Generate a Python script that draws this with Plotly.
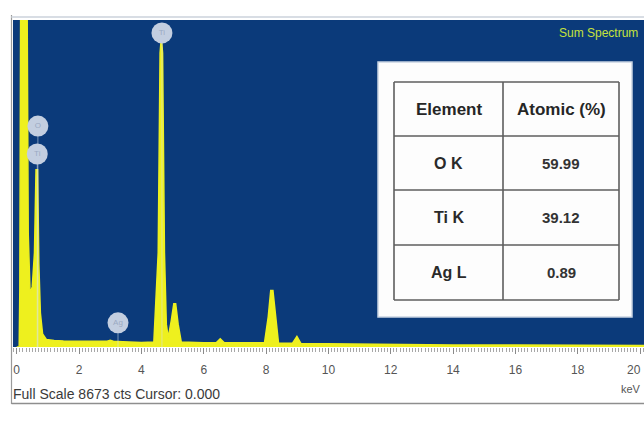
import plotly.graph_objects as go

# ---- spectrum (energy in keV, counts) ----
energy_kev = [0.00, 0.08, 0.10, 0.13, 0.33, 0.37, 0.43, 0.50, 0.57, 0.62, 0.67, 0.71,
              0.76, 0.83, 0.95, 1.20, 1.50, 2.00, 2.50, 2.90, 3.00, 3.10, 3.40, 4.00,
              4.40, 4.54, 4.60, 4.64, 4.68, 4.74, 4.80, 4.86, 4.96, 5.04, 5.10, 5.18,
              5.28, 5.60, 6.00, 6.40, 6.53, 6.66, 7.20, 7.95, 8.07, 8.15, 8.22, 8.30,
              8.40, 8.85, 8.99, 9.12, 10.0, 12.0, 14.0, 16.0, 18.0, 20.2]
counts = [0, 0, 1500, 9800, 9800, 3000, 1400, 1600, 2500, 4700, 4700, 2200,
          900, 350, 200, 170, 160, 150, 140, 150, 175, 150, 140, 120,
          130, 2500, 7800, 8200, 7800, 2500, 600, 250, 700, 1150, 1150, 600,
          130, 115, 110, 110, 220, 110, 105, 110, 800, 1500, 1500, 800,
          100, 100, 280, 90, 80, 65, 55, 50, 45, 40]

full_scale = 8673

# ---- peak identification markers ----
marker_symbols = ["Ti", "O", "Ti", "Ag"]
marker_energy = [4.66, 0.68, 0.66, 3.25]
marker_counts = [8330, 5860, 5120, 640]

# ---- quantification table ----
table_header = ["Element", "Atomic (%)"]
table_elements = ["O K", "Ti K", "Ag L"]
table_atomic = [59.99, 39.12, 0.89]

x_ticks = list(range(0, 21, 2))
# the last label sits at the right edge, so it is drawn right-aligned separately
x_tick_text = [str(t) for t in x_ticks[:-1]] + [""]

# plot-area geometry in pixels
W, H = 644, 429
PL, PR, PT, PB = 13, 644, 20, 347


def px(x):
    return (x - PL) / (PR - PL)


def py(y):
    return (PB - y) / (PB - PT)


BLUE = "#0b3a7a"
YELLOW = "#eef01e"
FONT = "Liberation Sans, Arial, sans-serif"

fig = go.Figure()

fig.add_trace(go.Scatter(
    x=energy_kev, y=counts, mode="lines",
    line=dict(color=YELLOW, width=1.5),
    fill="tozeroy", fillcolor=YELLOW,
    hoverinfo="skip", showlegend=False,
))

# stems under the identification markers
for e, c in zip(marker_energy, marker_counts):
    fig.add_trace(go.Scatter(
        x=[e, e], y=[0, c], mode="lines",
        line=dict(color="rgba(215,225,235,0.55)", width=1),
        hoverinfo="skip", showlegend=False,
    ))

fig.add_trace(go.Scatter(
    x=marker_energy, y=marker_counts, mode="markers+text",
    text=marker_symbols, textposition="middle center",
    textfont=dict(family=FONT, size=8, color="rgba(150,165,190,0.9)"),
    marker=dict(size=21, color="#c3cee0", line=dict(width=0)),
    cliponaxis=False, hoverinfo="skip", showlegend=False,
))

shapes = []
annotations = []

# outer frame
shapes.append(dict(type="line", xref="paper", yref="paper",
                   x0=px(11.5), x1=px(11.5), y0=py(15), y1=py(404),
                   line=dict(color="#9a9a9a", width=1.2)))
shapes.append(dict(type="line", xref="paper", yref="paper",
                   x0=px(11.5), x1=px(650), y0=py(403.5), y1=py(403.5),
                   line=dict(color="#8e8e8e", width=1.5)))
shapes.append(dict(type="line", xref="paper", yref="paper",
                   x0=px(11.5), x1=px(650), y0=py(17), y1=py(17),
                   line=dict(color="#d8dde4", width=2)))

# table panel
shapes.append(dict(type="rect", xref="paper", yref="paper",
                   x0=px(378), x1=px(632), y0=py(317), y1=py(62),
                   fillcolor="#fdfdfd", line=dict(color="#c9d3e2", width=1.5)))

col_x = [394, 503, 619]
row_y = [82, 136, 190, 245, 300]
for y in row_y:
    shapes.append(dict(type="line", xref="paper", yref="paper",
                       x0=px(col_x[0]), x1=px(col_x[-1]), y0=py(y), y1=py(y),
                       line=dict(color="#5e5e5e", width=1.6)))
for x in col_x:
    shapes.append(dict(type="line", xref="paper", yref="paper",
                       x0=px(x), x1=px(x), y0=py(row_y[0]), y1=py(row_y[-1]),
                       line=dict(color="#5e5e5e", width=1.6)))

col_cx = [(col_x[0] + col_x[1]) / 2, (col_x[1] + col_x[2]) / 2]
for cx, label in zip(col_cx, table_header):
    annotations.append(dict(xref="paper", yref="paper", x=px(cx), y=py((row_y[0] + row_y[1]) / 2),
                            text="<b>%s</b>" % label, showarrow=False,
                            xanchor="center", yanchor="middle",
                            font=dict(family=FONT, size=17, color="#262626")))
for i, (el, val) in enumerate(zip(table_elements, table_atomic)):
    cy = (row_y[i + 1] + row_y[i + 2]) / 2
    annotations.append(dict(xref="paper", yref="paper", x=px(col_cx[0]), y=py(cy),
                            text="<b>%s</b>" % el, showarrow=False,
                            xanchor="center", yanchor="middle",
                            font=dict(family=FONT, size=16, color="#2a2a2a")))
    annotations.append(dict(xref="paper", yref="paper", x=px(col_cx[1]), y=py(cy),
                            text="<b>%.2f</b>" % val, showarrow=False,
                            xanchor="center", yanchor="middle",
                            font=dict(family=FONT, size=15, color="#333333")))

annotations.append(dict(xref="paper", yref="paper", x=px(557), y=py(33),
                        text="Sum Spectrum", showarrow=False,
                        xanchor="left", yanchor="middle",
                        font=dict(family=FONT, size=12, color="#c6e23c")))
annotations.append(dict(xref="paper", yref="paper", x=px(11), y=py(394),
                        text="Full Scale %d cts Cursor: 0.000" % full_scale, showarrow=False,
                        xanchor="left", yanchor="middle",
                        font=dict(family=FONT, size=14, color="#3a3a3a")))
annotations.append(dict(xref="paper", yref="paper", x=px(643), y=py(389),
                        text="keV", showarrow=False,
                        xanchor="right", yanchor="middle",
                        font=dict(family=FONT, size=11, color="#555555")))
# right-most tick label, kept inside the figure
annotations.append(dict(xref="x", yref="paper", x=x_ticks[-1], y=py(369.5),
                        text=str(x_ticks[-1]), showarrow=False, xshift=3,
                        xanchor="right", yanchor="middle",
                        font=dict(family=FONT, size=12, color="#555555")))

E0 = (PL - 16.7) / 31.17
E1 = (PR - 16.7) / 31.17

fig.update_layout(
    width=W, height=H,
    margin=dict(l=PL, r=W - PR, t=PT, b=H - PB, autoexpand=False),
    paper_bgcolor="white", plot_bgcolor=BLUE,
    shapes=shapes, annotations=annotations,
    xaxis=dict(range=[E0, E1], showgrid=False, zeroline=False, automargin=False,
               tickvals=x_ticks, ticktext=x_tick_text,
               ticks="outside", ticklen=6, tickwidth=1,
               tickcolor="#8a8a8a", ticklabelstandoff=6,
               ticklabeloverflow="allow",
               tickfont=dict(family=FONT, size=12, color="#555555"),
               minor=dict(dtick=0.1, ticks="outside", ticklen=4, tickcolor="#a8a8a8", tickwidth=1),
               showline=False, fixedrange=True),
    yaxis=dict(range=[0, full_scale], visible=False, fixedrange=True, automargin=False),
)

fig.write_html("out.html")
